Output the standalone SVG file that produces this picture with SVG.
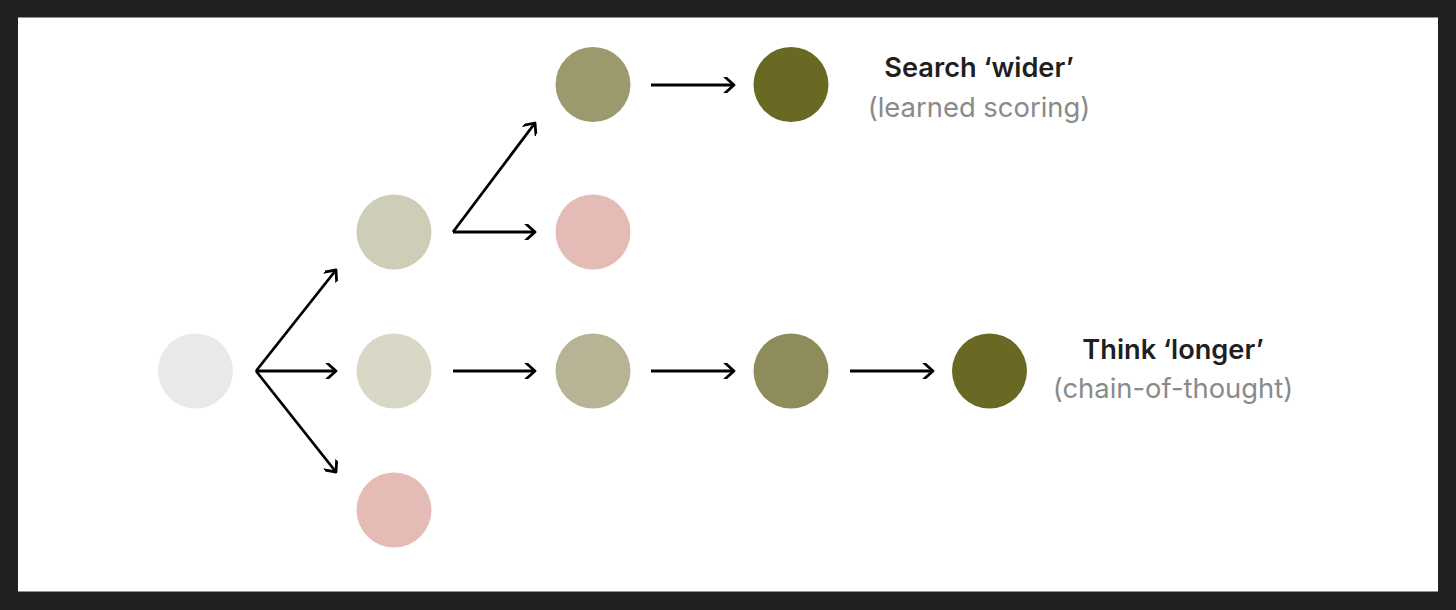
<svg xmlns="http://www.w3.org/2000/svg" width="1456" height="610" viewBox="0 0 1456 610">
<style>
.t1{font-family:Inter,"Liberation Sans",sans-serif;font-size:27.2px;font-weight:600;fill:#1f1f1f;text-anchor:middle}
.t2{font-family:Inter,"Liberation Sans",sans-serif;font-size:27.4px;font-weight:400;fill:#8a8a8a;text-anchor:middle}
.c{stroke:#000;stroke-width:2.8;fill:none;marker-end:url(#ah)}
</style>
<defs>
<marker id="ah" viewBox="-12 -8 14 16" markerWidth="14" markerHeight="16" refX="0" refY="0" orient="auto" markerUnits="userSpaceOnUse">
<path d="M-9,-8 L0,0 L-9,8" fill="none" stroke="#000" stroke-width="2.8" stroke-linecap="round" stroke-linejoin="round"/>
</marker>
</defs>
<rect x="0" y="0" width="1456" height="610" fill="#212121"/>
<rect x="18" y="17.5" width="1420" height="574" fill="#ffffff"/>
<g id="connectors">
<path class="c" d="M256,371 L336,270"/>
<path class="c" d="M256,371 L336,371"/>
<path class="c" d="M256,371 L336,472"/>
<path class="c" d="M453,232 L535,123"/>
<path class="c" d="M453,232 L535,232"/>
<path class="c" d="M453,371 L535,371"/>
<path class="c" d="M651,85 L734,85"/>
<path class="c" d="M651,371 L734,371"/>
<path class="c" d="M850,371 L933,371"/>
</g>
<g id="n0"><circle cx="195.5" cy="371" r="37.5" fill="#e9e9e9"/></g>
<g id="n1"><circle cx="394" cy="232" r="37.5" fill="#cdcdb8"/></g>
<g id="n2"><circle cx="394" cy="371" r="37.5" fill="#d9d8c6"/></g>
<g id="n3"><circle cx="394" cy="510" r="37.5" fill="#e4bbb5"/></g>
<g id="n4"><circle cx="593" cy="84.5" r="37.5" fill="#9c9a6c"/></g>
<g id="n5"><circle cx="593" cy="232" r="37.5" fill="#e4bbb5"/></g>
<g id="n6"><circle cx="593" cy="371" r="37.5" fill="#b7b495"/></g>
<g id="n7"><circle cx="791" cy="84.5" r="37.5" fill="#6a6923"/></g>
<g id="n8"><circle cx="791" cy="371" r="37.5" fill="#8d8c5a"/></g>
<g id="n9"><circle cx="989.5" cy="371" r="37.5" fill="#6a6923"/></g>
<g id="label-wider">
<text class="t1" x="979" y="77">Search ‘wider’</text>
<text class="t2" x="979" y="117">(learned scoring)</text>
</g>
<g id="label-longer">
<text class="t1" x="1173" y="359">Think ‘longer’</text>
<text class="t2" x="1173" y="398">(chain-of-thought)</text>
</g>
</svg>
